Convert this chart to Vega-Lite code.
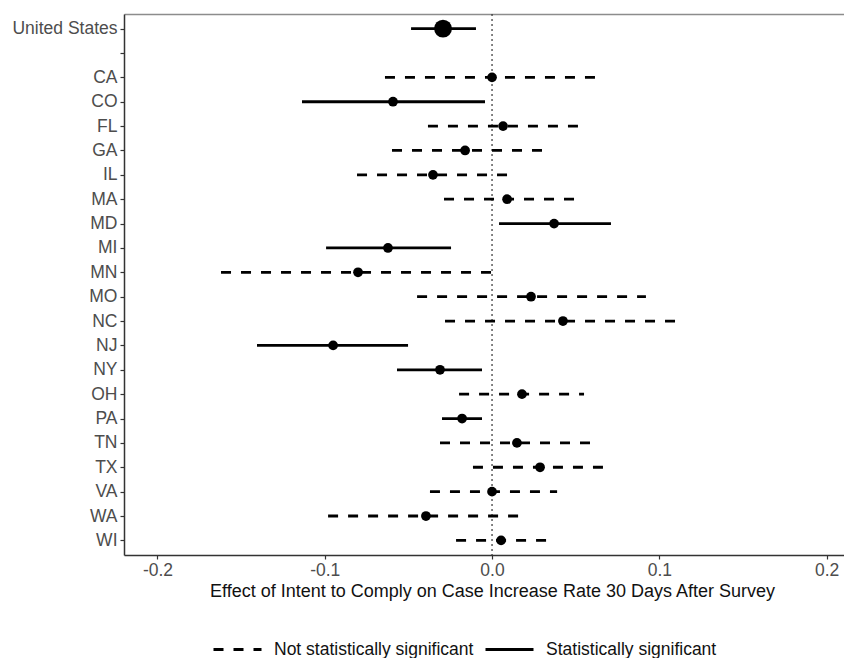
{
  "$schema": "https://vega.github.io/schema/vega-lite/v6.json",
  "width": 720,
  "height": 541,
  "autosize": {"type": "none"},
  "padding": {"left": 124, "top": 14, "right": 0, "bottom": 103},
  "background": "white",
  "config": {
    "font": "Liberation Sans",
    "view": {"stroke": null},
    "axis": {
      "grid": false,
      "domainColor": "#333333",
      "domainWidth": 1.5,
      "tickColor": "#333333",
      "tickWidth": 1.2,
      "tickSize": 4,
      "labelColor": "#4d4d4d",
      "labelFont": "Liberation Sans",
      "labelFontSize": 17.5,
      "titleFont": "Liberation Sans",
      "titleFontSize": 18,
      "titleFontWeight": "normal",
      "titleColor": "#111111"
    }
  },
  "resolve": {"axis": {"x": "independent"}},
  "data": {
    "values": [
      {"state": "United States", "level": "national", "est": -0.0293, "lo": -0.0484, "hi": -0.0096, "sig": "Statistically significant"},
      {"state": "CA", "level": "state", "est": 0.0000, "lo": -0.0640, "hi": 0.0663, "sig": "Not statistically significant"},
      {"state": "CO", "level": "state", "est": -0.0592, "lo": -0.1136, "hi": -0.0042, "sig": "Statistically significant"},
      {"state": "FL", "level": "state", "est": 0.0066, "lo": -0.0383, "hi": 0.0514, "sig": "Not statistically significant"},
      {"state": "GA", "level": "state", "est": -0.0161, "lo": -0.0598, "hi": 0.0329, "sig": "Not statistically significant"},
      {"state": "IL", "level": "state", "est": -0.0353, "lo": -0.0807, "hi": 0.0120, "sig": "Not statistically significant"},
      {"state": "MA", "level": "state", "est": 0.0090, "lo": -0.0287, "hi": 0.0514, "sig": "Not statistically significant"},
      {"state": "MD", "level": "state", "est": 0.0371, "lo": 0.0042, "hi": 0.0711, "sig": "Statistically significant"},
      {"state": "MI", "level": "state", "est": -0.0622, "lo": -0.0992, "hi": -0.0245, "sig": "Statistically significant"},
      {"state": "MN", "level": "state", "est": -0.0801, "lo": -0.1620, "hi": 0.0018, "sig": "Not statistically significant"},
      {"state": "MO", "level": "state", "est": 0.0233, "lo": -0.0448, "hi": 0.0920, "sig": "Not statistically significant"},
      {"state": "NC", "level": "state", "est": 0.0424, "lo": -0.0281, "hi": 0.1136, "sig": "Not statistically significant"},
      {"state": "NJ", "level": "state", "est": -0.0950, "lo": -0.1405, "hi": -0.0502, "sig": "Statistically significant"},
      {"state": "NY", "level": "state", "est": -0.0311, "lo": -0.0568, "hi": -0.0060, "sig": "Statistically significant"},
      {"state": "OH", "level": "state", "est": 0.0179, "lo": -0.0197, "hi": 0.0550, "sig": "Not statistically significant"},
      {"state": "PA", "level": "state", "est": -0.0179, "lo": -0.0299, "hi": -0.0060, "sig": "Statistically significant"},
      {"state": "TN", "level": "state", "est": 0.0149, "lo": -0.0311, "hi": 0.0616, "sig": "Not statistically significant"},
      {"state": "TX", "level": "state", "est": 0.0287, "lo": -0.0114, "hi": 0.0693, "sig": "Not statistically significant"},
      {"state": "VA", "level": "state", "est": 0.0000, "lo": -0.0371, "hi": 0.0389, "sig": "Not statistically significant"},
      {"state": "WA", "level": "state", "est": -0.0395, "lo": -0.0980, "hi": 0.0197, "sig": "Not statistically significant"},
      {"state": "WI", "level": "state", "est": 0.0054, "lo": -0.0215, "hi": 0.0329, "sig": "Not statistically significant"}
    ]
  },
  "layer": [
    {
      "data": {"values": [{"ref": 0}]},
      "mark": {"type": "rule", "strokeDash": [2, 3], "strokeWidth": 1.2, "color": "#333333"},
      "encoding": {
        "x": {
          "field": "ref",
          "type": "quantitative",
          "scale": {"domain": [-0.22, 0.2104], "nice": false, "zero": false},
          "axis": {"orient": "top", "labels": false, "ticks": false, "title": null, "domainColor": "#8c8c8c", "domainWidth": 1.5}
        }
      }
    },
    {
      "mark": {"type": "rule", "strokeWidth": 2.8, "color": "black"},
      "encoding": {
        "y": {
          "field": "state",
          "type": "nominal",
          "sort": null,
          "scale": {"type": "point", "padding": 0.6, "domain": ["United States", " ", "CA", "CO", "FL", "GA", "IL", "MA", "MD", "MI", "MN", "MO", "NC", "NJ", "NY", "OH", "PA", "TN", "TX", "VA", "WA", "WI"]},
          "axis": {"title": null, "labelPadding": 3}
        },
        "x": {
          "field": "lo",
          "type": "quantitative",
          "scale": {"domain": [-0.22, 0.2104], "nice": false, "zero": false},
          "axis": {
            "orient": "bottom",
            "title": "Effect of Intent to Comply on Case Increase Rate 30 Days After Survey",
            "values": [-0.2, -0.1, 0, 0.1, 0.2],
            "labelExpr": "datum.value < 0 ? '-' + format(-datum.value, '.1f') : format(datum.value, '.1f')",
            "labelPadding": 2,
            "titlePadding": 4,
            "titleX": 368,
            "titleAlign": "center"
          }
        },
        "x2": {"field": "hi"},
        "strokeDash": {
          "field": "sig",
          "type": "nominal",
          "scale": {"domain": ["Not statistically significant", "Statistically significant"], "range": [[10, 10], [1, 0]]},
          "legend": {
            "title": null,
            "orient": "none",
            "direction": "horizontal",
            "legendX": 88,
            "legendY": 610,
            "padding": 0,
            "symbolType": "stroke",
            "symbolSize": 2304,
            "symbolStrokeWidth": 2.8,
            "symbolStrokeColor": "black",
            "labelFont": "Liberation Sans",
            "labelFontSize": 17.5,
            "labelColor": "#111111",
            "labelOffset": 11,
            "labelLimit": 400,
            "columnPadding": 5
          }
        }
      }
    },
    {
      "mark": {"type": "circle", "color": "black", "opacity": 1},
      "encoding": {
        "y": {
          "field": "state",
          "type": "nominal",
          "sort": null,
          "scale": {"type": "point", "padding": 0.6, "domain": ["United States", " ", "CA", "CO", "FL", "GA", "IL", "MA", "MD", "MI", "MN", "MO", "NC", "NJ", "NY", "OH", "PA", "TN", "TX", "VA", "WA", "WI"]}
        },
        "x": {"field": "est", "type": "quantitative", "axis": null},
        "size": {
          "field": "level",
          "type": "ordinal",
          "scale": {"domain": ["national", "state"], "range": [320, 95]},
          "legend": null
        }
      }
    }
  ]
}
